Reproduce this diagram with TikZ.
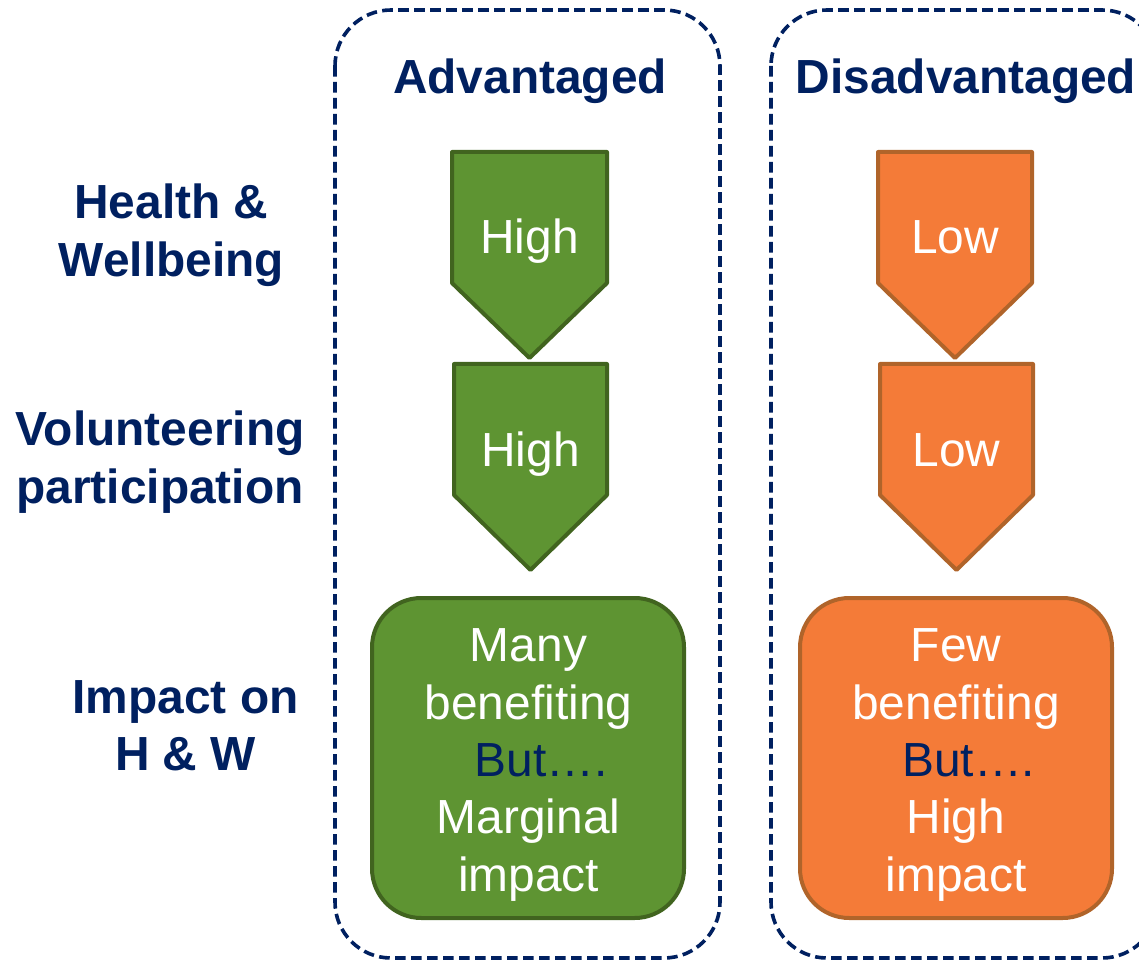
\documentclass[tikz,border=0pt]{standalone}
\usepackage{fontspec}
\setmainfont{Liberation Sans}
\definecolor{navy}{HTML}{002060}
\definecolor{leafgreen}{HTML}{5E9432}
\definecolor{leafedge}{HTML}{41641F}
\definecolor{tangerine}{HTML}{F47B38}
\definecolor{tanedge}{HTML}{B0642A}
\begin{document}
\begin{tikzpicture}[x=0.75pt,y=-0.75pt,
  groupbox/.style={draw=navy,line width=2.7pt,dash pattern=on 8pt off 4pt,rounded corners=42pt},
  greenarrow/.style={draw=leafedge,fill=leafgreen,line width=3pt,line join=round},
  orangearrow/.style={draw=tanedge,fill=tangerine,line width=3pt,line join=round},
  greenbox/.style={draw=leafedge,fill=leafgreen,line width=3pt,rounded corners=37pt},
  orangebox/.style={draw=tanedge,fill=tangerine,line width=3pt,rounded corners=37pt},
  bigtext/.style={font=\fontsize{35.9}{43.1}\selectfont,align=center,inner sep=0pt},
  rowlabel/.style={bigtext,font=\fontsize{35.9}{43.1}\selectfont\bfseries,text=navy},
  title/.style={rowlabel,anchor=base},
  inner/.style={bigtext,text=white}]
\useasboundingbox (0,0) rectangle (1139,962);
\clip (0,0) rectangle (1139,962);

% dashed group frames
\draw[groupbox] (335,10) rectangle (720,958);
\draw[groupbox] (771,10) rectangle (1158,958);

% column titles
\node[title] (adv) at (530,94) {Advantaged};
\node[title] (dis) at (966,94) {Disadvantaged};

% row labels
\node[rowlabel] (hw)  at (171.5,235) {Health \&\\Wellbeing};
\node[rowlabel] (vol) at (160,462) {Volunteering\\participation};
\node[rowlabel] (imp) at (185.5,726) {Impact on\\H \& W};

% downward arrows
\draw[greenarrow]  (452,152) -- (607,152) -- (607,283) -- (529.5,358) -- (452,283) -- cycle;
\draw[greenarrow]  (454,364) -- (607,364) -- (607,495) -- (530.5,570) -- (454,495) -- cycle;
\draw[orangearrow] (878,152) -- (1032,152) -- (1032,283) -- (955,358) -- (878,283) -- cycle;
\draw[orangearrow] (880,364) -- (1033,364) -- (1033,495) -- (956.5,570) -- (880,495) -- cycle;

\node[inner,anchor=base] (advhw)  at (529.5,254) {High};
\node[inner,anchor=base] (advvol) at (530.5,466) {High};
\node[inner,anchor=base] (dishw)  at (955,254) {Low};
\node[inner,anchor=base] (disvol) at (956.5,466) {Low};

% impact boxes
\draw[greenbox]  (372,598) rectangle (684,918);
\draw[orangebox] (800,598) rectangle (1112,918);
\node[inner] (advimp) at (528.5,765) {Many\\benefiting\\\hspace*{19pt}\textcolor{navy}{But….}\\Marginal\\impact};
\node[inner] (disimp) at (956,765) {Few\\benefiting\\\hspace*{19pt}\textcolor{navy}{But….}\\High\\impact};
\end{tikzpicture}
\end{document}
